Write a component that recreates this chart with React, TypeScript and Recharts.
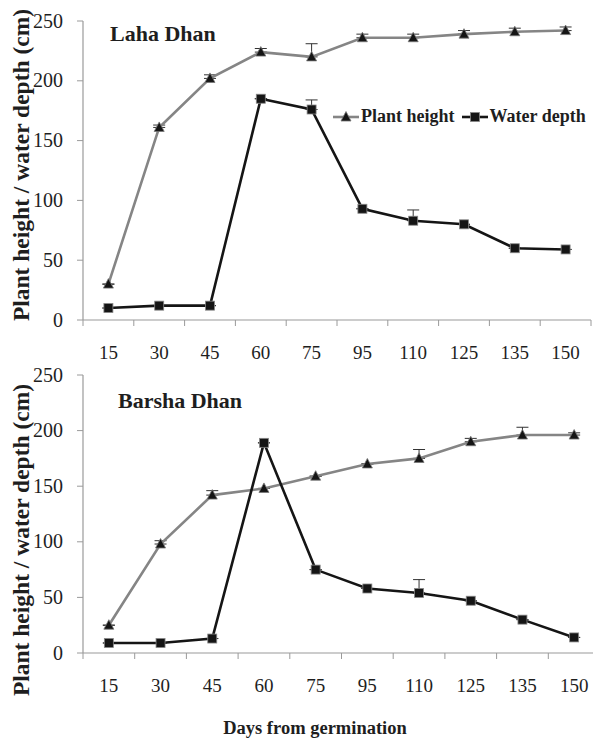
import { ErrorBar, Line, LineChart, XAxis, YAxis } from "recharts";

const days = ["15", "30", "45", "60", "75", "95", "110", "125", "135", "150"];

const lahaHeight = [30, 161, 202, 224, 220, 236, 236, 239, 241, 242];
const lahaHeightErr = [0, 2, 3, 3, 11, 3, 3, 3, 3, 3];
const lahaWater = [10, 12, 12, 185, 176, 93, 83, 80, 60, 59];
const lahaWaterErr = [0, 0, 0, 0, 8, 0, 9, 0, 0, 0];

const barshaHeight = [25, 98, 142, 148, 159, 170, 175, 190, 196, 196];
const barshaHeightErr = [0, 3, 4, 0, 0, 0, 8, 3, 7, 2];
const barshaWater = [9, 9, 13, 189, 75, 58, 54, 47, 30, 14];
const barshaWaterErr = [0, 0, 0, 0, 0, 0, 12, 0, 0, 0];

const yTicks = [0, 50, 100, 150, 200, 250];
// ticks on the category boundaries (integers) and labels at the centres (halves)
const xTicks = Array.from({ length: 21 }, (_, i) => i / 2);

const FONT = '"Liberation Serif", "Times New Roman", serif';
const TEXT = "#1e1e1e";
const AXIS = "#9a9a9a";
const GREY_LINE = "#858585";
const DARK = "#151515";

const pageCss = `
body { margin: 0; }
#root div, #root span, #root svg text, #root svg tspan {
  font-family: "Liberation Serif", "Times New Roman", serif !important;
}
`;

function buildRows(height: number[], heightErr: number[], water: number[], waterErr: number[]) {
  return days.map((d, i) => ({
    day: d,
    pos: i + 0.5,
    height: height[i],
    heightErr: [0, heightErr[i]],
    water: water[i],
    waterErr: [0, waterErr[i]],
  }));
}

const Triangle = (props: any) => {
  const { cx, cy } = props;
  if (cx == null || cy == null) return null;
  return (
    <polygon
      points={`${cx},${cy - 5.5} ${cx - 5},${cy + 4} ${cx + 5},${cy + 4}`}
      fill={DARK}
      stroke="#777"
      strokeWidth={0.8}
    />
  );
};

const Square = (props: any) => {
  const { cx, cy } = props;
  if (cx == null || cy == null) return null;
  return <rect x={cx - 4.5} y={cy - 4.5} width={9} height={9} fill={DARK} stroke="#888" strokeWidth={0.8} />;
};

const XTick = (props: any) => {
  const { x, y, payload } = props;
  const v = payload.value as number;
  if (Number.isInteger(v)) {
    return <line x1={x} x2={x} y1={y} y2={y + 6} stroke={AXIS} strokeWidth={1} />;
  }
  return (
    <text x={x} y={y + 39} textAnchor="middle" fontFamily={FONT} fontSize={19} fill={TEXT}>
      {days[Math.floor(v)]}
    </text>
  );
};

const YTick = (props: any) => {
  const { x, y, payload } = props;
  return (
    <text x={x} y={y + 6.5} textAnchor="end" fontFamily={FONT} fontSize={20} fill={TEXT}>
      {payload.value}
    </text>
  );
};

type PanelProps = {
  title: string;
  height: number[];
  heightErr: number[];
  water: number[];
  waterErr: number[];
  chartWidth: number;
  chartHeight: number;
  margin: { top: number; right: number; bottom: number; left: number };
  xAxisHeight: number;
  titlePos: { x: number; y: number };
  yLabelY: number;
  xLabel?: { x: number; y: number };
};

function Panel(p: PanelProps) {
  const rows = buildRows(p.height, p.heightErr, p.water, p.waterErr);
  return (
    <div style={{ position: "relative", width: 593, height: p.chartHeight, overflow: "hidden" }}>
      <LineChart width={p.chartWidth} height={p.chartHeight} data={rows} margin={p.margin}>
        <XAxis
          dataKey="pos"
          type="number"
          domain={[0, 10]}
          ticks={xTicks}
          interval={0}
          tickLine={false}
          tickSize={0}
          tickMargin={0}
          height={p.xAxisHeight}
          axisLine={{ stroke: AXIS, strokeWidth: 1.2 }}
          tick={<XTick />}
          label={
            p.xLabel
              ? {
                  content: () => (
                    <text
                      x={p.xLabel!.x}
                      y={p.xLabel!.y}
                      textAnchor="middle"
                      dominantBaseline="central"
                      fontFamily={FONT}
                      fontWeight="bold"
                      fontSize={18.5}
                      fill={TEXT}
                    >
                      Days from germination
                    </text>
                  ),
                }
              : undefined
          }
        />
        <YAxis
          type="number"
          domain={[0, 250]}
          ticks={yTicks}
          width={60}
          tickSize={6}
          tickMargin={14}
          tickLine={{ stroke: AXIS }}
          axisLine={{ stroke: AXIS, strokeWidth: 1.2 }}
          tick={<YTick />}
          label={{
            content: () => (
              <text
                x={21}
                y={p.yLabelY}
                transform={`rotate(-90, 21, ${p.yLabelY})`}
                textAnchor="middle"
                dominantBaseline="central"
                fontFamily={FONT}
                fontWeight="bold"
                fontSize={23.5}
                fill={TEXT}
              >
                Plant height / water depth (cm)
              </text>
            ),
          }}
        />
        <Line
          dataKey="height"
          stroke={GREY_LINE}
          strokeWidth={2.6}
          dot={<Triangle />}
          activeDot={false}
          isAnimationActive={false}
        >
          <ErrorBar dataKey="heightErr" direction="y" width={6} stroke="#333" strokeWidth={1} />
        </Line>
        <Line
          dataKey="water"
          stroke={DARK}
          strokeWidth={2.6}
          dot={<Square />}
          activeDot={false}
          isAnimationActive={false}
        >
          <ErrorBar dataKey="waterErr" direction="y" width={6} stroke="#333" strokeWidth={1} />
        </Line>
      </LineChart>
      <div
        style={{
          position: "absolute",
          left: p.titlePos.x,
          top: p.titlePos.y,
          fontFamily: FONT,
          fontWeight: "bold",
          fontSize: 22,
          color: TEXT,
          whiteSpace: "nowrap",
        }}
      >
        {p.title}
      </div>
    </div>
  );
}

function LegendItem({ label, marker }: { label: string; marker: "tri" | "sq" }) {
  return (
    <span style={{ display: "inline-flex", alignItems: "center", marginRight: 7 }}>
      <svg width={26} height={14} style={{ marginRight: 2 }}>
        <line x1={0} x2={26} y1={7} y2={7} stroke={marker === "tri" ? GREY_LINE : DARK} strokeWidth={2.6} />
        {marker === "tri" ? <Triangle cx={13} cy={7} /> : <Square cx={13} cy={7} />}
      </svg>
      <span>{label}</span>
    </span>
  );
}

export default function App() {
  return (
    <div
      style={{
        position: "relative",
        width: 593,
        height: 740,
        background: "#fff",
        overflow: "hidden",
        fontFamily: FONT,
      }}
    >
      <style>{pageCss}</style>
      <Panel
        title="Laha Dhan"
        height={lahaHeight}
        heightErr={lahaHeightErr}
        water={lahaWater}
        waterErr={lahaWaterErr}
        chartWidth={593}
        chartHeight={362}
        margin={{ top: 21, right: 2, bottom: 2, left: 23 }}
        xAxisHeight={40}
        titlePos={{ x: 110, y: 21 }}
        yLabelY={165}
      />
      <Panel
        title="Barsha Dhan"
        height={barshaHeight}
        heightErr={barshaHeightErr}
        water={barshaWater}
        waterErr={barshaWaterErr}
        chartWidth={610}
        chartHeight={378}
        margin={{ top: 13, right: 10, bottom: 27, left: 23 }}
        xAxisHeight={60}
        titlePos={{ x: 118, y: 26 }}
        yLabelY={178}
        xLabel={{ x: 315, y: 366 }}
      />
      <div
        style={{
          position: "absolute",
          left: 333,
          top: 106,
          display: "flex",
          fontFamily: FONT,
          fontWeight: "bold",
          fontSize: 18,
          color: TEXT,
          whiteSpace: "nowrap",
        }}
      >
        <LegendItem label="Plant height" marker="tri" />
        <LegendItem label="Water depth" marker="sq" />
      </div>
    </div>
  );
}
